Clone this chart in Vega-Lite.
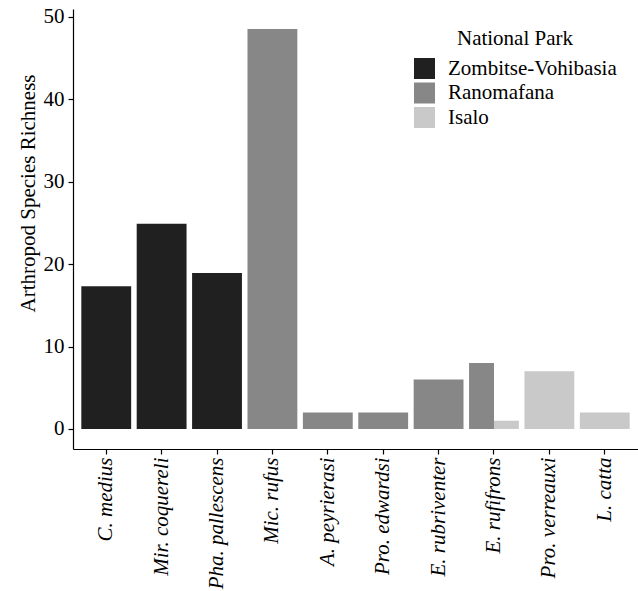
{
  "$schema": "https://vega.github.io/schema/vega-lite/v6.json",
  "width": 565,
  "height": 440,
  "autosize": {"type": "none"},
  "padding": {"left": 73, "top": 9, "right": 0, "bottom": 142},
  "background": "white",
  "config": {
    "view": {"stroke": null},
    "font": "Liberation Serif"
  },
  "data": {
    "values": [
      {"species": "C. medius", "park": "Zombitse-Vohibasia", "richness": 17.3},
      {"species": "Mir. coquereli", "park": "Zombitse-Vohibasia", "richness": 24.9},
      {"species": "Pha. pallescens", "park": "Zombitse-Vohibasia", "richness": 18.9},
      {"species": "Mic. rufus", "park": "Ranomafana", "richness": 48.5},
      {"species": "A. peyrierasi", "park": "Ranomafana", "richness": 2},
      {"species": "Pro. edwardsi", "park": "Ranomafana", "richness": 2},
      {"species": "E. rubriventer", "park": "Ranomafana", "richness": 6},
      {"species": "E. rufifrons", "park": "Ranomafana", "richness": 8},
      {"species": "E. rufifrons", "park": "Isalo", "richness": 1},
      {"species": "Pro. verreauxi", "park": "Isalo", "richness": 7},
      {"species": "L. catta", "park": "Isalo", "richness": 2}
    ]
  },
  "encoding": {
    "x": {
      "field": "species",
      "type": "nominal",
      "scale": {
        "domain": ["C. medius", "Mir. coquereli", "Pha. pallescens", "Mic. rufus", "A. peyrierasi", "Pro. edwardsi", "E. rubriventer", "E. rufifrons", "Pro. verreauxi", "L. catta"],
        "paddingInner": 0.1,
        "paddingOuter": 0.15
      },
      "axis": {
        "title": null,
        "labelAngle": 270,
        "labelAlign": "right",
        "labelBaseline": "middle",
        "labelFont": "Liberation Serif",
        "labelFontStyle": "italic",
        "labelFontSize": 21,
        "labelColor": "#000000",
        "labelPadding": 3,
        "labelLimit": 0,
        "tickSize": 5,
        "tickColor": "#000000",
        "tickWidth": 1.2,
        "domainColor": "#000000",
        "domainWidth": 1.2,
        "grid": false,
        "labelOverlap": false
      }
    },
    "y": {
      "field": "richness",
      "type": "quantitative",
      "scale": {"domain": [-2.43, 50.93], "nice": false, "zero": false},
      "axis": {
        "title": "Arthropod Species Richness",
        "titleFont": "Liberation Serif",
        "titleFontSize": 21,
        "titleFontWeight": "normal",
        "titleColor": "#000000",
        "titleAngle": 270,
        "titleAlign": "center",
        "titleBaseline": "alphabetic",
        "titleX": -39,
        "titleY": 184,
        "values": [0, 10, 20, 30, 40, 50],
        "labelFont": "Liberation Serif",
        "labelFontSize": 21,
        "labelColor": "#000000",
        "labelPadding": 4,
        "tickSize": 5,
        "tickColor": "#000000",
        "tickWidth": 1.2,
        "domainColor": "#000000",
        "domainWidth": 1.2,
        "grid": false
      }
    },
    "y2": {"datum": 0},
    "color": {
      "field": "park",
      "type": "nominal",
      "scale": {
        "domain": ["Zombitse-Vohibasia", "Ranomafana", "Isalo"],
        "range": ["#202020", "#878787", "#c9c9c9"]
      },
      "legend": {
        "title": "National Park",
        "orient": "none",
        "legendX": 341,
        "legendY": 19,
        "titleFont": "Liberation Serif",
        "titleFontSize": 21,
        "titleFontWeight": "normal",
        "titleColor": "#000000",
        "titleAnchor": "middle",
        "titlePadding": 9,
        "titleLimit": 0,
        "labelFont": "Liberation Serif",
        "labelFontSize": 21,
        "labelColor": "#000000",
        "labelOffset": 13,
        "labelLimit": 0,
        "symbolType": "square",
        "symbolSize": 441,
        "symbolStrokeWidth": 0,
        "symbolOpacity": 1,
        "rowPadding": 2.5
      }
    }
  },
  "layer": [
    {
      "transform": [{"filter": "datum.species !== 'E. rufifrons'"}],
      "mark": {"type": "bar", "opacity": 1}
    },
    {
      "transform": [{"filter": "datum.species === 'E. rufifrons'"}],
      "mark": {"type": "bar", "opacity": 1},
      "encoding": {
        "xOffset": {
          "field": "park",
          "type": "nominal",
          "scale": {"domain": ["Ranomafana", "Isalo"]}
        }
      }
    }
  ]
}
